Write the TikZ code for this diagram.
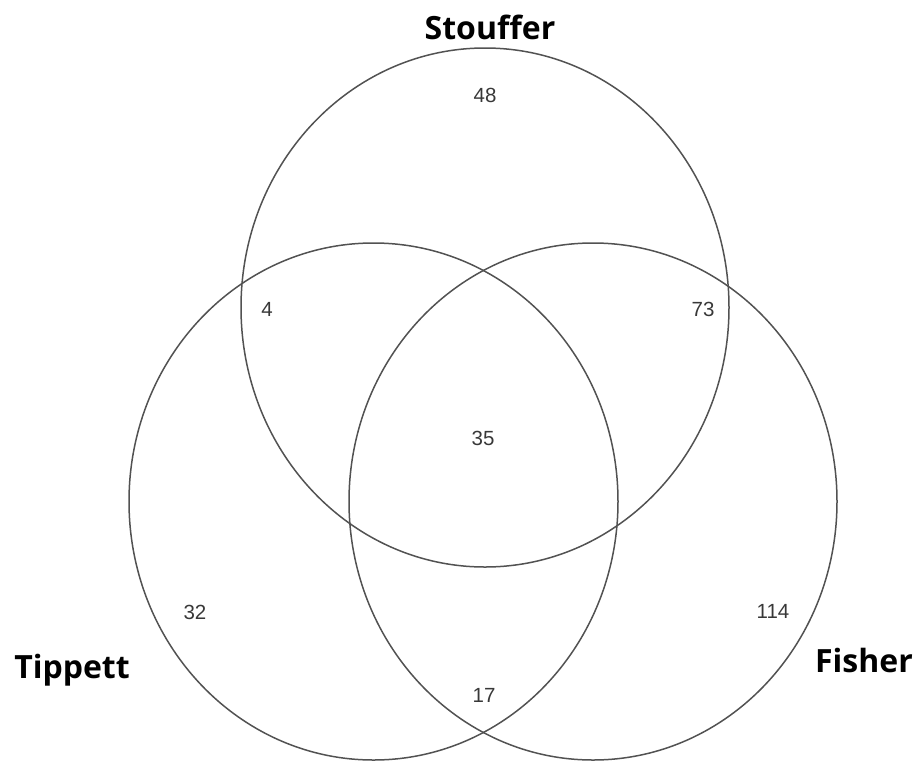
\documentclass[tikz,border=0pt]{standalone}
\usepackage{fontspec}
\setmainfont{Liberation Sans}
\newfontfamily\labelfont{Open Sans}
\begin{document}
\begin{tikzpicture}[x=1pt,y=-1pt,
  setring/.style={draw=black!68, line width=1.5pt},
  count/.style={font=\fontsize{20.5}{20.5}\selectfont, text=black!78, inner sep=0pt},
  setname/.style={font=\labelfont\bfseries\fontsize{32}{32}\selectfont, text=black, inner sep=0pt}]
\useasboundingbox (0,0) rectangle (919,764);
% the three sets
\draw[setring] (485,307.5) ellipse [x radius=244, y radius=259.5];
\draw[setring] (373.5,501.5) ellipse [x radius=244.5, y radius=258.5];
\draw[setring] (593,501.5) ellipse [x radius=244, y radius=258.5];
% set names
\node[setname] (stouffer) at (490,27) {Stouffer};
\node[setname] (tippett) at (72,670) {Tippett};
\node[setname] (fisher) at (864,660) {Fisher};
% region counts
\node[count] (sOnly) at (485,95) {48};
\node[count] (st) at (267,309) {4};
\node[count] (sf) at (703,309) {73};
\node[count] (stf) at (483,438) {35};
\node[count] (tOnly) at (195,612) {32};
\node[count] (fOnly) at (773,611) {114};
\node[count] (tf) at (484,695) {17};
\end{tikzpicture}
\end{document}
